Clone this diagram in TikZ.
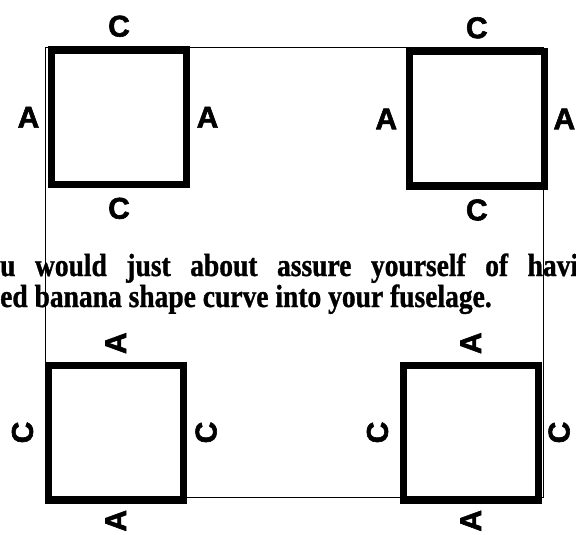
\documentclass[tikz,border=0pt]{standalone}
\usepackage{fontspec}
\usepackage{graphicx}
\usetikzlibrary{positioning}
\newfontfamily\capsfont[FakeBold=2]{Liberation Sans}
\newfontfamily\bodyfont[FakeStretch=0.86,FakeBold=1]{Liberation Serif}

\begin{document}
\begin{tikzpicture}[x=1pt, y=-1pt,
    panel/.style={draw, line width=7.5pt, minimum width=135pt, minimum height=134.5pt, inner sep=0pt, outer sep=0pt},
    letter/.style={inner sep=0pt, font=\capsfont\bfseries\fontsize{30}{30}\selectfont},
    prose/.style={inner sep=0pt, anchor=base west, font=\bodyfont\bfseries\fontsize{32}{32}\selectfont}]
    \useasboundingbox (0,0) rectangle (576,535);
    \clip (0,0) rectangle (576,535);

    % thin outline
    \draw[line width=0.8pt] (45.5,47.5) rectangle (543,497.5);

    % upper panels, A at the sides
    \node[panel] (tl) at (119,117.3) {};
    \node[letter, above=13pt of tl] (tlTop) {C};
    \node[letter, below=13pt of tl] (tlBot) {C};
    \node[letter, left=12pt of tl] (tlLeft) {A};
    \node[letter, right=10pt of tl] (tlRight) {A};

    \node[panel] (tr) at (476.8,118.9) {};
    \node[letter, above=13pt of tr] (trTop) {C};
    \node[letter, below=13pt of tr] (trBot) {C};
    \node[letter, left=12pt of tr] (trLeft) {A};
    \node[letter, right=9pt of tr] (trRight) {A};

    % the text across the middle
    \node[prose] (line1) at (0,276) {\makebox[578pt][s]{u would just about assure yourself of havi}};
    \node[prose] (line2) at (0,307) {ed banana shape curve into your fuselage.};

    % lower panels, turned a quarter
    \node[panel] (bl) at (115.8,432.5) {};
    \node[letter, above=11pt of bl] (blTop) {\rotatebox{90}{A}};
    \node[letter, below=10pt of bl] (blBot) {\rotatebox{90}{A}};
    \node[letter, left=15pt of bl] (blLeft) {\rotatebox{90}{C}};
    \node[letter, right=12pt of bl] (blRight) {\rotatebox{90}{C}};

    \node[panel] (br) at (470.8,432.5) {};
    \node[letter, above=11pt of br] (brTop) {\rotatebox{90}{A}};
    \node[letter, below=10pt of br] (brBot) {\rotatebox{90}{A}};
    \node[letter, left=15pt of br] (brLeft) {\rotatebox{90}{C}};
    \node[letter, right=10pt of br] (brRight) {\rotatebox{90}{C}};
\end{tikzpicture}
\end{document}
